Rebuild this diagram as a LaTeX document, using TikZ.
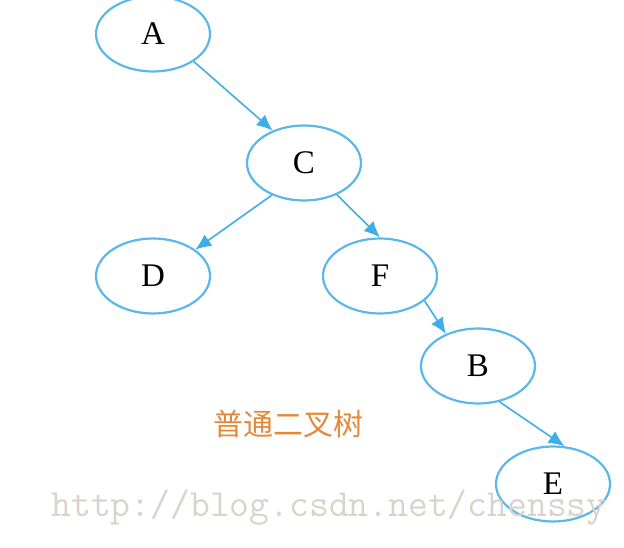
\documentclass[tikz,border=0pt]{standalone}
\usepackage{fontspec}
\newfontfamily\cjk{Noto Sans CJK SC}
\newfontfamily\letterfont{Liberation Serif}
\usetikzlibrary{arrows.meta,shapes.geometric}
\definecolor{treeblue}{HTML}{5BB8E8}
\definecolor{arrowblue}{HTML}{3FAEE8}
\definecolor{captionorange}{HTML}{E3893A}
\definecolor{markgray}{HTML}{D8D4CC}
\begin{document}
\begin{tikzpicture}[x=1pt,y=-1pt]
	\useasboundingbox (0,0) rectangle (624,548);
	\begin{scope}[every node/.style={ellipse,draw=treeblue,line width=2.2pt,minimum width=114pt,minimum height=75pt,inner sep=0pt,font=\letterfont\fontsize{33}{33}\selectfont}]
		\node (A) at (153,34) {A};
		\node (C) at (304,163) {C};
		\node (D) at (153,276) {D};
		\node (F) at (380,276) {F};
		\node (B) at (478,366) {B};
		\node (E) at (553,484) {E};
	\end{scope}
	
	\begin{scope}[every edge/.style={draw=arrowblue,line width=1.6pt,-{Latex[length=16pt,width=14pt]}}]
		\path (A.-34) edge (C.134);
		\path (C.-135) edge (D.32);
		\path (C.-44) edge (F.90);
		\path (F.-29) edge (B.135);
		\path (B.-59) edge (E.73);
	\end{scope}
	
	\node (caption) at (288,424) {\cjk\fontsize{30}{30}\selectfont\color{captionorange}普通二叉树};
	\node (mark) at (329,508) {\ttfamily\fontsize{38.5}{38.5}\selectfont\color{markgray}http://blog.csdn.net/chenssy};
\end{tikzpicture}
\end{document}
